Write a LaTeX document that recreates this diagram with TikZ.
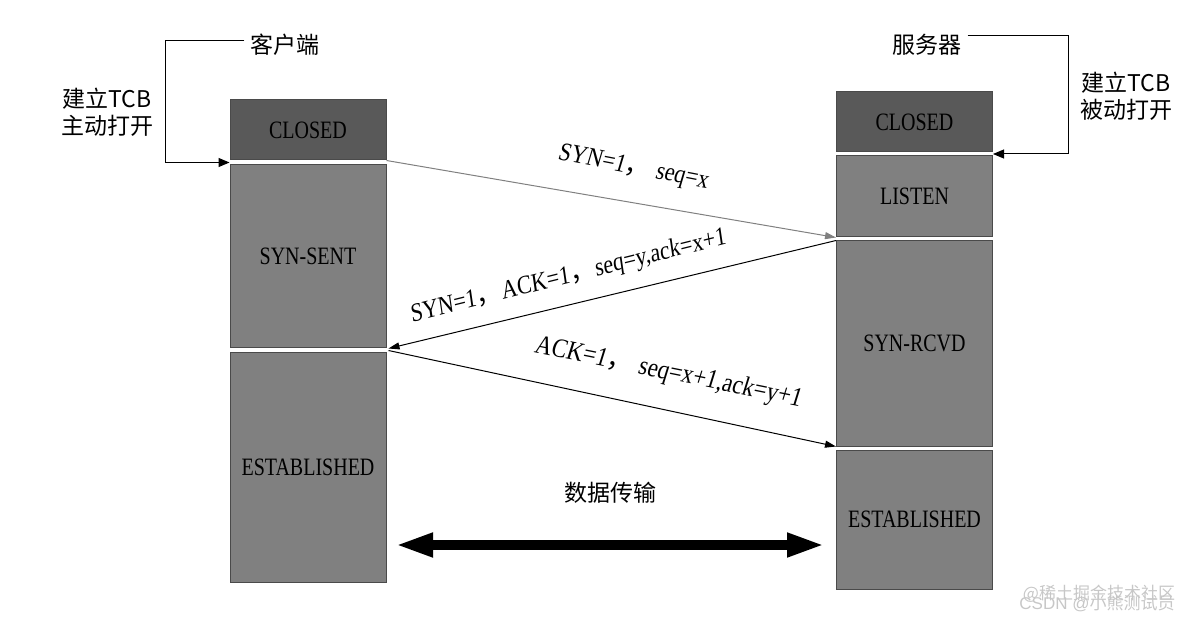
\documentclass[tikz,border=0pt]{standalone}
\usepackage{fontspec}
\usetikzlibrary{arrows.meta,calc}
\setmainfont{Liberation Serif}
\newfontfamily\cjk{Noto Sans CJK SC}
\newcommand{\zh}[1]{{\cjk #1}}
\newfontfamily\boxfont[FakeStretch=0.8]{Liberation Serif}
\newfontfamily\lblfont[FakeStretch=0.85,FakeSlant=0.1]{Liberation Serif}
\definecolor{darkbox}{HTML}{595959}
\definecolor{midbox}{HTML}{808080}
\definecolor{boxline}{HTML}{4A4A4A}
\tikzset{
  state/.style={draw=boxline, line width=1pt, fill=midbox, minimum width=156pt, inner sep=0pt,
    font=\boxfont\fontsize{25}{28}\selectfont, text=black},
  closedbox/.style={state, fill=darkbox, minimum height=60pt},
  msg/.style={-{Triangle[length=11pt,width=7pt]}, line width=1pt},
  msglabel/.style={font=\lblfont\fontsize{26}{30}\selectfont, inner sep=0pt},
  cn/.style={font=\cjk\fontsize{23}{27}\selectfont, inner sep=0pt, align=center},
  bracket/.style={line width=1pt, -{Triangle[length=11pt,width=9pt]}},
  wmark/.style={font=\cjk\fontsize{17}{20}\selectfont, text=black!22, inner sep=0pt}
}
\begin{document}
\begin{tikzpicture}[x=1pt,y=-1pt]
\useasboundingbox (0,0) rectangle (1199,620);
% client column
\node[closedbox] (cclosed) at (308,130) {CLOSED};
\node[state, minimum height=182pt] (csent) at (308,256) {SYN-SENT};
\node[state, minimum height=230pt] (cest) at (308,467) {ESTABLISHED};
% server column
\node[closedbox] (sclosed) at (914.5,122) {CLOSED};
\node[state, minimum height=81pt] (slisten) at (914.5,196.5) {LISTEN};
\node[state, minimum height=205pt] (srcvd) at (914.5,343.5) {SYN-RCVD};
\node[state, minimum height=139pt] (sest) at (914.5,519.5) {ESTABLISHED};
% headings
\node[cn] (client) at (285,45) {客户端};
\node[cn] (server) at (927,45) {服务器};
\node[cn] (copen) at (107,112) {建立TCB\\主动打开};
\node[cn] (sopen) at (1126,96) {建立TCB\\被动打开};
% bracket connectors
\coordinate (cgap) at ($(cclosed.south west)!0.5!(csent.north west)$);
\coordinate (sgap) at ($(sclosed.south east)!0.5!(slisten.north east)$);
\coordinate (cl0) at ($(client.west)+(-6,-4)$);
\coordinate (sl0) at ($(server.east)+(6,-9)$);
\coordinate (cx) at (165,0);
\coordinate (sx) at (1068,0);
\draw[bracket] (cl0) -- (cx |- cl0) -- (cx |- cgap) -- (cgap);
\draw[bracket] (sl0) -- (sx |- sl0) -- (sx |- sgap) -- (sgap);
% handshake messages
\draw[msg, draw=midbox] (cclosed.south east) -- (slisten.south west);
\draw[msg] (srcvd.north west) -- ($(csent.south east)+(2,1)$);
\draw[msg] ($(cest.north east)+(2,-1)$) -- ($(sest.north west)+(0,-3)$);
\node[msglabel, rotate=-11] (l1) at (633,168) {SYN=1\zh{，} seq=x};
\node[msglabel, rotate=14] (l2) at (568,277) {SYN=1\zh{，}ACK=1\zh{，}seq=y,ack=x+1};
\node[msglabel, rotate=-11.5, font=\lblfont\fontsize{27}{31}\selectfont] (l3) at (668,373) {ACK=1\zh{，} seq=x+1,ack=y+1};
% data transfer
\node[cn] (data) at (610,493) {数据传输};
\coordinate (dl) at (395,545);
\coordinate (dr) at (825,545);
\draw[line width=10pt, {Triangle[length=38pt,width=22pt]}-{Triangle[length=38pt,width=22pt]}] (dl) -- (dr);
% watermark
\node[wmark] (wm1) at (1099,594) {@稀土掘金技术社区};
\node[wmark] (wm2) at (1097,603) {\fontspec{Liberation Sans}CSDN @\zh{小熊测试员}};
\end{tikzpicture}
\end{document}
